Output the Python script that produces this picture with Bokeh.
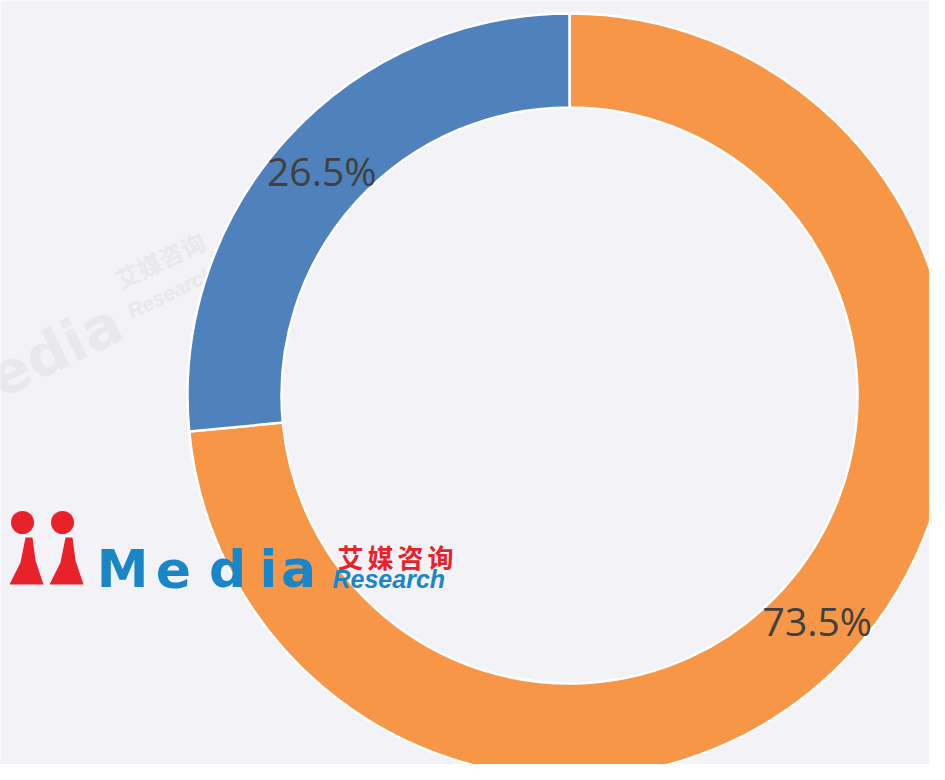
import math
from bokeh.plotting import figure
from bokeh.models import Range1d, ColumnDataSource
from bokeh.core.properties import value
from bokeh.embed import file_html
from bokeh.resources import INLINE

# ---- data ----
categories = ["类别一", "类别二"]
shares = [73.5, 26.5]
share_labels = ["73.5%", "26.5%"]
colors = ["#f79646", "#4f81bd"]

# ---- layout (figure pixels) ----
W, H = 929, 764
def X(sx):
    return sx
def Y(sy):
    return H - sy

CX, CY = X(569), Y(395)
R_OUT, R_IN = 382, 288
R_MID = (R_OUT + R_IN) / 2

total = sum(shares)
starts, ends, lx, ly = [], [], [], []
cum = 0.0
for s in shares:
    a0 = math.pi / 2 - 2 * math.pi * cum / total
    a1 = math.pi / 2 - 2 * math.pi * (cum + s) / total
    starts.append(a0)
    ends.append(a1)
    mid = (a0 + a1) / 2
    lx.append(CX + R_MID * math.cos(mid))
    ly.append(CY + R_MID * math.sin(mid))
    cum += s

src = ColumnDataSource(dict(cat=categories, share=shares, label=share_labels,
                            color=colors, start=starts, end=ends, lx=lx, ly=ly,
                            x=[CX] * len(shares), y=[CY] * len(shares)))

p = figure(width=W, height=H, output_backend="svg", toolbar_location=None,
           x_range=Range1d(0, W), y_range=Range1d(0, H),
           x_axis_type=None, y_axis_type=None, title=None, min_border=0)
p.grid.visible = False
p.outline_line_color = None
p.background_fill_color = "#f3f2f6"
p.border_fill_color = "#f3f2f6"

# faint background watermark
wm = "#e9e8ed"
p.text(x=[X(-60)], y=[Y(405)], text=["Media"], angle=[0.45],
       text_font=value("DejaVu Sans"), text_font_style="bold", text_font_size="58px",
       text_color=wm, text_align="left", text_baseline="alphabetic")
p.text(x=[X(116)], y=[Y(280)], text=["艾媒咨询"], angle=[0.45],
       text_font=value("Noto Sans CJK SC"), text_font_style="bold", text_font_size="24px",
       text_color=wm, text_align="left", text_baseline="alphabetic")
p.text(x=[X(128)], y=[Y(312)], text=["Research"], angle=[0.45],
       text_font=value("Liberation Sans"), text_font_style="bold italic", text_font_size="21px",
       text_color=wm, text_align="left", text_baseline="alphabetic")

# donut
p.annular_wedge(x="x", y="y", inner_radius=R_IN, outer_radius=R_OUT,
                start_angle="start", end_angle="end", direction="clock",
                fill_color="color", line_color="white", line_width=2.5, source=src)

# labels
p.text(x="lx", y="ly", text="label", source=src,
       text_font=value("Open Sans"), text_font_size="39px", text_color="#404040",
       text_align="center", text_baseline="middle")

# logo watermark
red = "#e8212b"
blue = "#1a86c8"
p.circle(x=[X(22), X(62)], y=[Y(522), Y(522)], radius=11.5, fill_color=red, line_color=None)
p.patches(xs=[[X(25), X(32), X(35), X(43), X(9), X(20)],
              [X(65), X(72), X(75), X(83), X(49), X(60)]],
          ys=[[Y(537), Y(537), Y(560), Y(584), Y(584), Y(562)],
              [Y(537), Y(537), Y(560), Y(584), Y(584), Y(562)]],
          fill_color=red, line_color=None)
p.text(x=[X(122), X(173), X(227), X(268), X(298)], y=[Y(568)] * 5,
       text=list("Media"), text_font=value("DejaVu Sans"), text_font_style="bold",
       text_font_size="52px", text_color=blue, text_align="center",
       text_baseline="alphabetic")
p.text(x=[X(350), X(380), X(410), X(440)], y=[Y(556)] * 4,
       text=list("艾媒咨询"), text_font=value("Noto Sans CJK SC"), text_font_style="bold",
       text_font_size="26px", text_color=red, text_align="center",
       text_baseline="middle")
p.text(x=[X(332)], y=[Y(578)], text=["Research"],
       text_font=value("Liberation Sans"), text_font_style="bold italic",
       text_font_size="25px", text_color=blue, text_align="left",
       text_baseline="alphabetic")

open("out.html", "w").write(file_html(p, INLINE))
